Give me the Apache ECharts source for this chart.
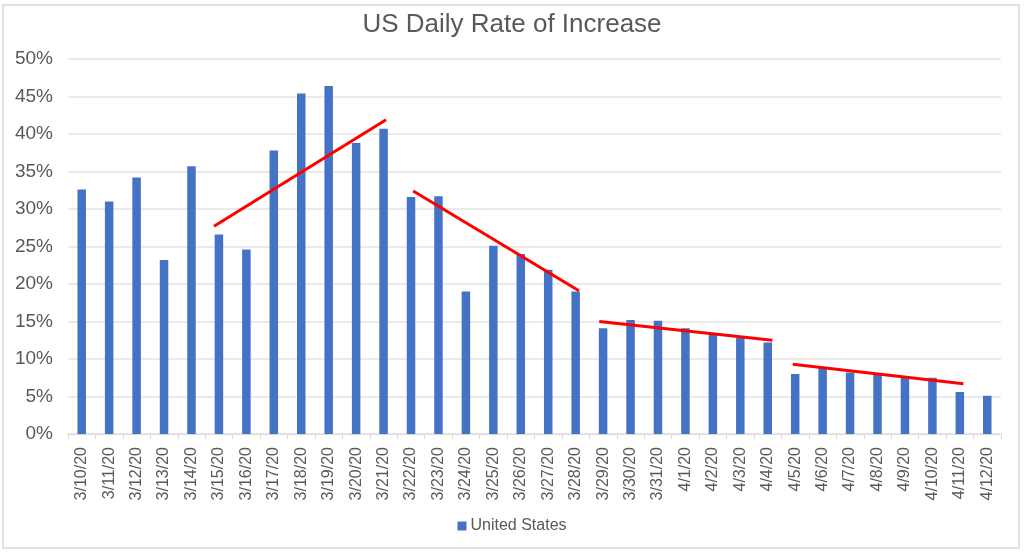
<!DOCTYPE html>
<html>
<head>
<meta charset="utf-8">
<script src="https://cdn.jsdelivr.net/npm/echarts@6/dist/echarts.min.js"></script>
<style>
html,body{margin:0;padding:0;background:#fff;}
#chart{width:1024px;height:552px;}
</style>
</head>
<body>
<div id="chart"></div>
<script>
const categories = ["3/10/20","3/11/20","3/12/20","3/13/20","3/14/20","3/15/20","3/16/20","3/17/20","3/18/20","3/19/20","3/20/20","3/21/20","3/22/20","3/23/20","3/24/20","3/25/20","3/26/20","3/27/20","3/28/20","3/29/20","3/30/20","3/31/20","4/1/20","4/2/20","4/3/20","4/4/20","4/5/20","4/6/20","4/7/20","4/8/20","4/9/20","4/10/20","4/11/20","4/12/20"];
const usRate = [32.6,31.0,34.2,23.2,35.7,26.6,24.6,37.8,45.4,46.4,38.8,40.7,31.6,31.7,19.0,25.1,24.0,21.9,19.0,14.1,15.2,15.1,14.1,13.2,12.8,12.2,8.0,8.8,8.2,8.1,7.6,7.5,5.6,5.1];
const yTicks = [0,5,10,15,20,25,30,35,40,45,50];
// trend segments: [category position, value %]
const trend1 = [[4.82,27.7],[11.09,41.9]];
const trend2 = [[12.08,32.4],[18.12,19.1]];
const trend3 = [[18.86,15.0],[25.17,12.5]];
const trend4 = [[25.91,9.3],[32.13,6.7]];

const chart = echarts.init(document.getElementById('chart'));
const font = 'Liberation Sans, Arial, sans-serif';
const trendSeries = [trend1,trend2,trend3,trend4].map(d => ({
  type:'line', xAxisIndex:1, data:d, symbol:'none', silent:true,
  lineStyle:{color:'#FF0000', width:3}, z:5
}));
chart.setOption({
  animation:false,
  backgroundColor:'#fff',
  title:{text:'US Daily Rate of Increase', left:'center', top:7,
    textStyle:{fontFamily:font, fontSize:26, fontWeight:'normal', color:'#595959'}},
  legend:{bottom:13, left:'center', itemWidth:9, itemHeight:9, icon:'rect', itemGap:4,
    data:['United States'],
    textStyle:{fontFamily:font, fontSize:16, color:'#595959', padding:[0,0,0,-1]}},
  grid:{left:68, right:23, top:59, bottom:118, containLabel:false},
  xAxis:[{
    type:'category', data:categories,
    axisLine:{lineStyle:{color:'#d9d9d9'}},
    axisTick:{show:true, length:5, lineStyle:{color:'#d9d9d9'}},
    axisLabel:{rotate:90, interval:0, fontFamily:font, fontSize:16, color:'#595959', margin:13}
  },{
    type:'value', min:-0.5, max:33.5, show:false
  }],
  yAxis:{
    type:'value', min:0, max:50, interval:5,
    axisLabel:{formatter: v => yTicks.includes(v) ? v + '%' : '', fontFamily:font, fontSize:19, color:'#595959', margin:15},
    axisLine:{show:false}, axisTick:{show:false},
    splitLine:{lineStyle:{color:'#e3e3e3', width:1.5}}
  },
  graphic:[{type:'rect', shape:{x:3,y:5,width:1016,height:543}, style:{fill:'none', stroke:'#d9d9d9', lineWidth:1.5}, silent:true, z:-1}],
  series:[{
    name:'United States', type:'bar', data:usRate, barWidth:8.5,
    itemStyle:{color:'#4472C4'}
  }].concat(trendSeries)
});
</script>
</body>
</html>
